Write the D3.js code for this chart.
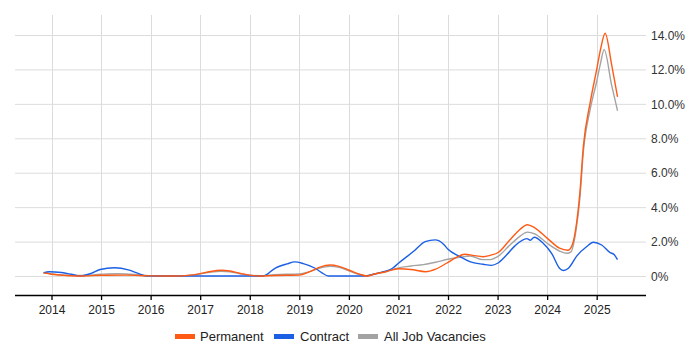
<!DOCTYPE html>
<html>
<head>
<meta charset="utf-8">
<script src="https://cdn.jsdelivr.net/npm/d3@7"></script>
<style>
  html, body { margin: 0; padding: 0; background: #fff; }
  svg { display: block; font-family: Arial, "Liberation Sans", sans-serif; }
</style>
</head>
<body>
<svg id="chart" width="700" height="350"></svg>
<script>
// ---- Data (decimal years, percent values) ----
const yearTicks = [2014, 2015, 2016, 2017, 2018, 2019, 2020, 2021, 2022, 2023, 2024, 2025];
const valueTicks = [0, 2, 4, 6, 8, 10, 12, 14];
const seriesNames = ["Permanent", "Contract", "All Job Vacancies"];

const permTimes = [2013.84, 2014.0, 2014.3, 2014.6, 2015.0, 2015.5, 2016.0, 2016.5, 2016.8, 2017.0, 2017.2, 2017.42, 2017.6, 2017.8, 2018.0, 2018.2, 2018.5, 2019.0, 2019.2, 2019.4, 2019.62, 2019.8, 2020.0, 2020.2, 2020.37, 2020.5, 2020.75, 2021.0, 2021.25, 2021.55, 2021.75, 2021.97, 2022.15, 2022.34, 2022.5, 2022.71, 2022.85, 2023.02, 2023.25, 2023.45, 2023.6, 2023.75, 2024.0, 2024.25, 2024.42, 2024.5, 2024.6, 2024.66, 2024.73, 2024.87, 2025.0, 2025.08, 2025.17, 2025.3, 2025.42];
const permValues = [0.18, 0.1, 0.03, 0.0, 0.04, 0.05, 0.01, 0.0, 0.05, 0.14, 0.26, 0.33, 0.29, 0.16, 0.05, 0.0, 0.03, 0.05, 0.24, 0.5, 0.64, 0.56, 0.35, 0.12, 0.0, 0.1, 0.25, 0.42, 0.38, 0.25, 0.4, 0.74, 1.05, 1.26, 1.2, 1.12, 1.2, 1.38, 2.1, 2.7, 2.98, 2.8, 2.2, 1.62, 1.5, 1.75, 3.2, 4.8, 7.5, 10.1, 12.0, 13.2, 14.1, 12.3, 10.4];

const contTimes = [2013.84, 2013.95, 2014.2, 2014.4, 2014.58, 2014.8, 2014.98, 2015.27, 2015.55, 2015.75, 2015.9, 2016.5, 2017.0, 2017.5, 2018.0, 2018.27, 2018.51, 2018.75, 2018.91, 2019.08, 2019.32, 2019.45, 2019.59, 2020.0, 2020.3, 2020.5, 2020.7, 2020.88, 2021.0, 2021.3, 2021.54, 2021.74, 2021.91, 2022.0, 2022.24, 2022.44, 2022.71, 2022.88, 2023.0, 2023.18, 2023.35, 2023.59, 2023.66, 2023.74, 2023.92, 2024.09, 2024.26, 2024.33, 2024.43, 2024.6, 2024.8, 2024.93, 2025.1, 2025.27, 2025.35, 2025.42];
const contValues = [0.18, 0.25, 0.2, 0.1, 0.0, 0.15, 0.38, 0.48, 0.36, 0.15, 0.0, 0.0, 0.0, 0.0, 0.0, 0.0, 0.45, 0.7, 0.82, 0.72, 0.45, 0.2, 0.0, 0.0, 0.0, 0.1, 0.25, 0.45, 0.74, 1.42, 2.0, 2.1, 1.85, 1.55, 1.13, 0.83, 0.68, 0.62, 0.74, 1.22, 1.75, 2.17, 2.08, 2.25, 1.9, 1.32, 0.42, 0.32, 0.45, 1.17, 1.71, 1.96, 1.8, 1.36, 1.25, 0.95];

const allTimes = [2013.84, 2014.0, 2014.3, 2014.6, 2015.0, 2015.3, 2015.6, 2016.0, 2016.5, 2016.8, 2017.0, 2017.2, 2017.42, 2017.6, 2017.8, 2018.0, 2018.2, 2018.5, 2019.0, 2019.2, 2019.4, 2019.62, 2019.8, 2020.0, 2020.2, 2020.37, 2020.5, 2020.75, 2021.0, 2021.25, 2021.5, 2021.75, 2022.0, 2022.25, 2022.45, 2022.7, 2022.85, 2023.0, 2023.25, 2023.45, 2023.6, 2023.75, 2024.0, 2024.25, 2024.4, 2024.48, 2024.58, 2024.66, 2024.73, 2024.87, 2025.0, 2025.08, 2025.15, 2025.3, 2025.42];
const allValues = [0.2, 0.12, 0.05, 0.03, 0.1, 0.13, 0.1, 0.02, 0.0, 0.05, 0.12, 0.22, 0.28, 0.25, 0.13, 0.05, 0.02, 0.08, 0.12, 0.25, 0.45, 0.56, 0.5, 0.3, 0.1, 0.0, 0.1, 0.25, 0.47, 0.58, 0.66, 0.8, 0.97, 1.1, 1.16, 0.95, 0.95, 1.12, 1.8, 2.3, 2.55, 2.45, 1.9, 1.45, 1.32, 1.4, 2.6, 4.5, 7.2, 9.7, 11.3, 12.4, 13.15, 11.1, 9.6];

// ---- Layout ----
const svg = d3.select("#chart");
const plot = { left: 15, right: 646, top: 15, bottom: 295 };

const x = d3.scaleLinear().domain([2014, 2025]).range([51.5, 596.7]);
const y = d3.scaleLinear().domain([0, 14]).range([276, 35]);

const gridColor = "#dcdcdc";

// horizontal gridlines
svg.append("g").selectAll("line").data(valueTicks).join("line")
  .attr("x1", plot.left).attr("x2", plot.right)
  .attr("y1", d => y(d) + 0.5).attr("y2", d => y(d) + 0.5)
  .attr("stroke", gridColor).attr("stroke-width", 1);

// vertical gridlines
svg.append("g").selectAll("line").data(yearTicks).join("line")
  .attr("x1", d => Math.round(x(d)) + 0.5).attr("x2", d => Math.round(x(d)) + 0.5)
  .attr("y1", plot.top).attr("y2", plot.bottom)
  .attr("stroke", gridColor).attr("stroke-width", 1);

// bottom axis
const xAxis = d3.axisBottom(x).tickValues(yearTicks).tickFormat(d3.format("d")).tickSize(5).tickSizeOuter(0).tickPadding(5);
const gx = svg.append("g").attr("transform", `translate(0,${plot.bottom})`).call(xAxis);
gx.select(".domain").remove();
gx.append("line").attr("x1", plot.left).attr("x2", plot.right).attr("y1", 0.5).attr("y2", 0.5)
  .attr("stroke", "#000").attr("stroke-width", 1.3);
gx.selectAll(".tick line").attr("stroke", "#000").attr("stroke-width", 1.3);
gx.selectAll(".tick text").attr("font-size", 12).attr("fill", "#222")
  .attr("font-family", "Arial, 'Liberation Sans', sans-serif");

// right value labels
const yAxis = d3.axisRight(y).tickValues(valueTicks)
  .tickFormat(d => d === 0 ? "0%" : d.toFixed(1) + "%").tickSize(0).tickPadding(0);
const gy = svg.append("g").attr("transform", `translate(651,0)`).call(yAxis);
gy.select(".domain").remove();
gy.selectAll(".tick text").attr("font-size", 12).attr("fill", "#333")
  .attr("font-family", "Arial, 'Liberation Sans', sans-serif").attr("dy", "0.35em").attr("x", 0);

// lines
const colors = { "Permanent": "#ff5a14", "Contract": "#1a5fe4", "All Job Vacancies": "#a3a3a3" };
const seriesData = {
  "Permanent": permTimes.map((t, i) => [t, permValues[i]]),
  "Contract": contTimes.map((t, i) => [t, contValues[i]]),
  "All Job Vacancies": allTimes.map((t, i) => [t, allValues[i]])
};
const line = d3.line().x(d => x(d[0])).y(d => y(d[1])).curve(d3.curveMonotoneX);

["All Job Vacancies", "Contract", "Permanent"].forEach(name => {
  svg.append("path").datum(seriesData[name])
    .attr("d", line).attr("fill", "none")
    .attr("stroke", colors[name]).attr("stroke-width", 1.4)
    .attr("stroke-linejoin", "round");
});

// legend
const legendItems = [
  { name: "Permanent", sx: 175, tx: 200 },
  { name: "Contract", sx: 274, tx: 300 },
  { name: "All Job Vacancies", sx: 358, tx: 384 }
];
const lg = svg.append("g");
legendItems.forEach(it => {
  lg.append("rect").attr("x", it.sx).attr("y", 334).attr("width", 20).attr("height", 5)
    .attr("fill", colors[it.name]);
  lg.append("text").attr("x", it.tx).attr("y", 336.5).attr("dy", "0.35em")
    .attr("font-size", 13).attr("fill", "#222").text(it.name);
});
</script>
</body>
</html>
